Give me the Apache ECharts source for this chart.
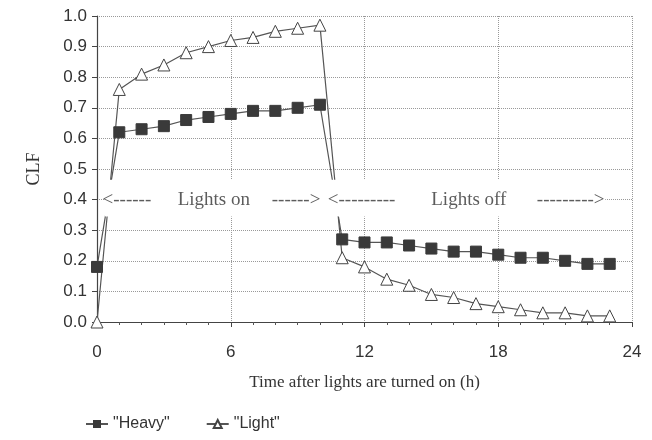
<!DOCTYPE html>
<html>
<head>
<meta charset="utf-8">
<script src="https://cdn.jsdelivr.net/npm/echarts@6/dist/echarts.min.js"></script>
<style>
  html, body { margin: 0; padding: 0; background: #fff; }
  #chart { width: 652px; height: 440px; }
</style>
</head>
<body>
<div id="chart"></div>
<script>
var hours = [0, 1, 2, 3, 4, 5, 6, 7, 8, 9, 10, 11, 12, 13, 14, 15, 16, 17, 18, 19, 20, 21, 22, 23];
var heavy = [0.18, 0.62, 0.63, 0.64, 0.66, 0.67, 0.68, 0.69, 0.69, 0.70, 0.71,
             0.27, 0.26, 0.26, 0.25, 0.24, 0.23, 0.23, 0.22, 0.21, 0.21, 0.20, 0.19, 0.19];
var light = [0.00, 0.76, 0.81, 0.84, 0.88, 0.90, 0.92, 0.93, 0.95, 0.96, 0.97,
             0.21, 0.18, 0.14, 0.12, 0.09, 0.08, 0.06, 0.05, 0.04, 0.03, 0.03, 0.02, 0.02];
var xTicks = [0, 6, 12, 18, 24];
// annotation texts along CLF = 0.4
var noteText = ['<------', 'Lights on', '------>', '<---------', 'Lights off', '--------->'];
var noteX = [1.34, 5.24, 8.93, 11.87, 16.68, 21.25];
var noteY = 0.4;
var bandX = [0.35, 22.8];
var bandY = [0.345, 0.465];

var pairs = function (ys) {
    return hours.map(function (h, i) { return [h, ys[i]]; });
};

var chartDom = document.getElementById('chart');
var myChart = echarts.init(chartDom);
var serif = 'Liberation Serif, Times New Roman, serif';
var sans = 'Liberation Sans, Arial, sans-serif';

var option = {
    backgroundColor: '#fff',
    animation: false,
    grid: { left: 97, right: 20, top: 16, bottom: 118 },
    xAxis: {
        type: 'value',
        min: 0,
        max: 24,
        interval: 6,
        name: 'Time after lights are turned on (h)',
        nameLocation: 'middle',
        nameGap: 52,
        nameTextStyle: { fontFamily: serif, fontSize: 17, color: '#333' },
        axisLine: { show: true, lineStyle: { color: '#444', width: 1.2 } },
        axisTick: { show: true, length: 5, lineStyle: { color: '#444' } },
        minorTick: { show: true, splitNumber: 6, length: 3, lineStyle: { color: '#555' } },
        axisLabel: {
            fontFamily: sans, fontSize: 17, color: '#333', margin: 22,
            formatter: function (v) { return xTicks.indexOf(v) >= 0 ? String(v) : ''; }
        },
        splitLine: { show: true, lineStyle: { color: '#999', type: 'dotted', width: 1 } }
    },
    yAxis: {
        type: 'value',
        min: 0,
        max: 1,
        interval: 0.1,
        name: 'CLF',
        nameLocation: 'middle',
        nameGap: 54,
        nameRotate: 90,
        nameTextStyle: { fontFamily: serif, fontSize: 18, color: '#333' },
        axisLine: { show: true, lineStyle: { color: '#444', width: 1.2 } },
        axisTick: { show: true, length: 5, lineStyle: { color: '#444' } },
        axisLabel: {
            fontFamily: sans, fontSize: 17, color: '#333', margin: 10,
            formatter: function (v) { return v.toFixed(1); }
        },
        splitLine: { show: true, lineStyle: { color: '#999', type: 'dotted', width: 1 } }
    },
    legend: {
        left: 80,
        top: 411,
        itemWidth: 22,
        itemHeight: 10,
        itemGap: 36,
        textStyle: { fontFamily: sans, fontSize: 16, color: '#333' },
        data: ['"Heavy"', '"Light"']
    },
    series: [
        {
            name: '"Heavy"',
            type: 'line',
            data: pairs(heavy),
            symbol: 'rect',
            symbolSize: 11,
            z: 3,
            lineStyle: { color: '#555', width: 1.2 },
            itemStyle: { color: '#3a3a3a', borderColor: '#3a3a3a' }
        },
        {
            name: '"Light"',
            type: 'line',
            data: pairs(light),
            symbol: 'triangle',
            symbolSize: 12,
            z: 3,
            lineStyle: { color: '#555', width: 1.2 },
            itemStyle: { color: '#fff', borderColor: '#444', borderWidth: 1 }
        },
        {
            name: 'notes',
            type: 'scatter',
            z: 10,
            symbolSize: 0,
            silent: true,
            data: noteX.map(function (x, i) { return { value: [x, noteY], name: noteText[i] }; }),
            label: {
                show: true,
                position: 'inside',
                formatter: '{b}',
                fontFamily: serif,
                fontSize: 19,
                color: '#333'
            },
            markArea: {
                silent: true,
                z: 8,
                itemStyle: { color: '#fff' },
                data: [[{ coord: [bandX[0], bandY[0]] }, { coord: [bandX[1], bandY[1]] }]]
            }
        }
    ]
};

option && myChart.setOption(option);
</script>
</body>
</html>
